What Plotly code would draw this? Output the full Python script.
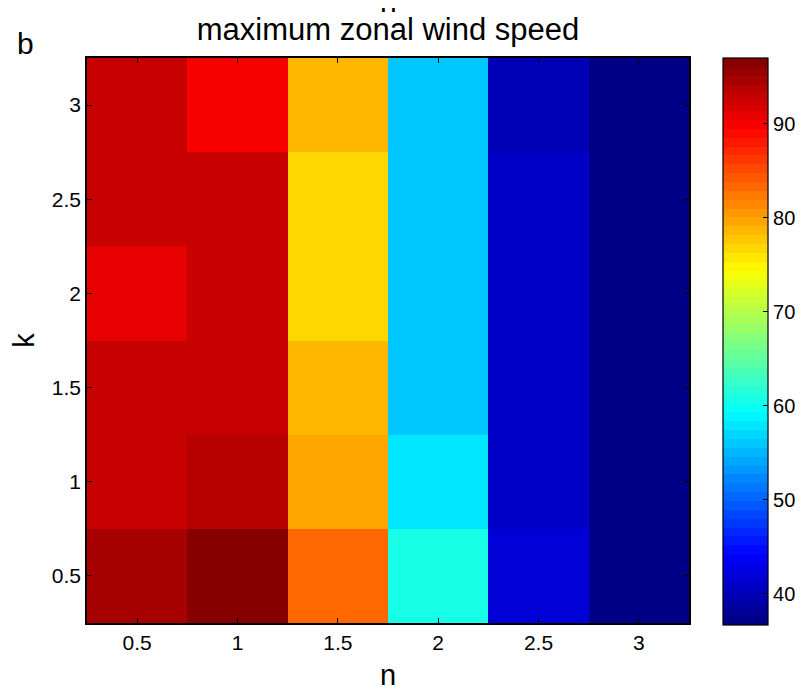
import plotly.graph_objects as go

# ---- data ----
n_vals = [0.5, 1.0, 1.5, 2.0, 2.5, 3.0]
k_vals = [0.5, 1.0, 1.5, 2.0, 2.5, 3.0]
# rows: k = 0.5 ... 3 ; columns: n = 0.5 ... 3
speed_k05 = [95.1, 97.0, 82.9, 60.7, 41.9, 37.0]
speed_k10 = [93.2, 94.1, 79.1, 57.9, 40.9, 37.0]
speed_k15 = [92.3, 93.2, 78.2, 56.0, 40.9, 37.0]
speed_k20 = [91.3, 92.3, 77.2, 56.0, 40.9, 37.0]
speed_k25 = [92.3, 92.3, 77.2, 56.0, 40.9, 37.0]
speed_k30 = [92.3, 90.4, 78.2, 56.0, 40.0, 37.0]
z_min = 36.7
z_max = 97.0
cbar_ticks = [40, 50, 60, 70, 80, 90]
x_ticks = [0.5, 1, 1.5, 2, 2.5, 3]
y_ticks = [0.5, 1, 1.5, 2, 2.5, 3]

z = [speed_k05, speed_k10, speed_k15, speed_k20, speed_k25, speed_k30]


# ---- MATLAB jet(64), stepped ----
def jet(m=64):
    cols = []
    for i in range(m):
        x = (i + 0.5) / m
        r = min(max(min(4 * x - 1.5, -4 * x + 4.5), 0), 1)
        g = min(max(min(4 * x - 0.5, -4 * x + 3.5), 0), 1)
        b = min(max(min(4 * x + 0.5, -4 * x + 2.5), 0), 1)
        cols.append("rgb(%d,%d,%d)" % (round(r * 255), round(g * 255), round(b * 255)))
    return cols


jc = jet(64)
cscale = []
for i, c in enumerate(jc):
    cscale.append([i / 64, c])
    cscale.append([(i + 1) / 64, c])

FONT = "Liberation Sans, Arial, Helvetica, sans-serif"

# page body has an 8px margin; work in figure coordinates
OFF = 8
W, H = 803 - OFF, 691 - OFF
L, R, T, B = 87 - OFF, 689 - OFF, 58 - OFF, 623 - OFF
PW, PH = R - L, B - T

fig = go.Figure(
    go.Heatmap(
        x=n_vals,
        y=k_vals,
        z=z,
        zmin=z_min,
        zmax=z_max,
        colorscale=cscale,
        colorbar=dict(
            x=(723 - OFF - L) / PW,
            xanchor="left",
            y=1.0,
            yanchor="top",
            len=567,
            lenmode="pixels",
            thickness=45,
            thicknessmode="pixels",
            xpad=0,
            ypad=0,
            outlinewidth=1.2,
            outlinecolor="black",
            ticks="inside",
            ticklen=5,
            tickwidth=1,
            tickcolor="black",
            tickvals=cbar_ticks,
            tickfont=dict(family=FONT, size=20, color="black"),
        ),
        hoverongaps=False,
    )
)

fig.update_layout(
    width=W,
    height=H,
    margin=dict(l=L, r=W - R, t=T, b=H - B, autoexpand=False),
    paper_bgcolor="white",
    plot_bgcolor="white",
    font=dict(family=FONT, color="black"),
    title=dict(
        text="maximum zonal wind speed",
        x=0.5,
        xref="paper",
        xanchor="center",
        y=1.0,
        yref="paper",
        yanchor="bottom",
        pad=dict(b=18),
        font=dict(family=FONT, size=31, color="black"),
    ),
    annotations=[
        dict(
            text="b",
            xref="paper",
            yref="paper",
            x=(25 - OFF - L) / PW,
            y=1 + (58 - 62) / PH,
            xanchor="center",
            yanchor="bottom",
            showarrow=False,
            font=dict(family=FONT, size=30, color="black"),
        ),
        dict(
            text="n",
            xref="paper",
            yref="paper",
            x=0.5,
            y=1 + (T - 12) / PH,
            xanchor="center",
            yanchor="bottom",
            showarrow=False,
            font=dict(family=FONT, size=30, color="black"),
        ),
    ],
)

fig.update_xaxes(
    range=[0.25, 3.25],
    tickvals=x_ticks,
    ticktext=["0.5", "1", "1.5", "2", "2.5", "3"],
    ticks="inside",
    ticklen=5,
    tickwidth=1,
    tickcolor="black",
    showline=True,
    linecolor="black",
    linewidth=1.5,
    mirror="allticks",
    showgrid=False,
    zeroline=False,
    automargin=False,
    tickfont=dict(family=FONT, size=21, color="black"),
    title=dict(text="n", font=dict(family=FONT, size=29, color="black"), standoff=12),
)
fig.update_yaxes(
    range=[0.25, 3.25],
    tickvals=y_ticks,
    ticktext=["0.5", "1", "1.5", "2", "2.5", "3"],
    ticks="inside",
    ticklen=5,
    tickwidth=1,
    tickcolor="black",
    showline=True,
    linecolor="black",
    linewidth=1.5,
    mirror="allticks",
    showgrid=False,
    zeroline=False,
    automargin=False,
    tickfont=dict(family=FONT, size=21, color="black"),
    title=dict(text="k", font=dict(family=FONT, size=29, color="black"), standoff=16),
)

fig.write_html("out.html")
